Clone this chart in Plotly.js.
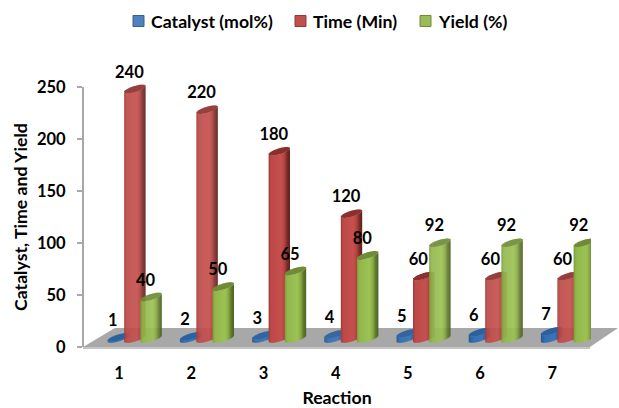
<!DOCTYPE html>
<html>
<head>
<meta charset="utf-8">
<script src="https://cdn.plot.ly/plotly-3.0.1.min.js"></script>
<style>html,body{margin:0;padding:0;background:#fff}#chart{width:619px;height:408px}</style>
</head>
<body>
<div id="chart"></div>
<script>
// Reaction conditions per run
const reactions = [1, 2, 3, 4, 5, 6, 7];
const catalyst = [1, 2, 3, 4, 5, 6, 7];
const time = [240, 220, 180, 120, 60, 60, 60];
const yieldPct = [40, 50, 65, 80, 92, 92, 92];

const W = 619, H = 408;
const plot = {l: 83, r: 591, t: 61, b: 347};
const yMax = 275;
const xMax = 7.536;
const pxPerX = (plot.r - plot.l) / (xMax - 0.5);
const pxPerY = (plot.b - plot.t) / yMax;

// Cylinder geometry, in pixels, converted to axis units when used
const radius = 10.5, tilt = 3, flat = 3, floorLift = 8.5;
const stripCount = 21;

const styles = [
  {name: 'Catalyst (mol%)', values: catalyst, shift: -0.7, cap: [42, 98, 162],
   stops: [[-1, [38, 88, 144]], [-0.6, [54, 112, 178]], [0.3, [58, 118, 186]], [0.7, [38, 90, 150]], [1, [28, 68, 116]]]},
  {name: 'Time (Min)', values: time, shift: 15.8, cap: [140, 48, 46],
   stops: [[-1, [160, 60, 58]], [-0.75, [188, 74, 72]], [0.2, [198, 80, 78]], [0.5, [178, 68, 66]], [0.75, [128, 46, 44]], [1, [92, 32, 30]]]},
  {name: 'Yield (%)', values: yieldPct, shift: 32, cap: [112, 140, 56],
   stops: [[-1, [124, 156, 58]], [-0.75, [146, 184, 76]], [0.2, [156, 194, 84]], [0.5, [138, 172, 70]], [0.75, [100, 126, 48]], [1, [76, 98, 36]]]}
];

function shade(stops, t) {
  for (let i = 1; i < stops.length; i++) {
    if (t <= stops[i][0]) {
      const f = (t - stops[i - 1][0]) / (stops[i][0] - stops[i - 1][0]);
      const c = stops[i - 1][1].map((v, k) => Math.round(v + (stops[i][1][k] - v) * f));
      return `rgb(${c.join(',')})`;
    }
  }
  return `rgb(${stops[stops.length - 1][1].join(',')})`;
}

// Each cylinder is a run of narrow bars: the body keeps the full value as its
// length, and the cap bars span the tilted ellipse above it.
function cylinderTrace(style) {
  const x = [], y = [], base = [], width = [], color = [];
  const lift = floorLift / pxPerY;
  const caps = {x: [], y: [], base: [], width: [], color: []};
  style.values.forEach((v, i) => {
    for (let s = 0; s < stripCount; s++) {
      const t = -1 + (2 * s + 1) / stripCount;
      const edge = Math.sqrt(1 - t * t) * flat / pxPerY;
      const slope = t * tilt / pxPerY;
      const cx = reactions[i] + style.shift / pxPerX + t * radius / pxPerX;
      const w = 1.4 * (2 * radius / stripCount) / pxPerX;
      x.push(cx); width.push(w); color.push(shade(style.stops, t));
      base.push(lift + slope - edge); y.push(v);
      caps.x.push(cx); caps.width.push(w); caps.color.push(`rgb(${style.cap.join(',')})`);
      caps.base.push(lift + v + slope - edge); caps.y.push(2 * edge);
    }
  });
  return {
    type: 'bar', name: style.name, orientation: 'v', cliponaxis: false, showlegend: false, hoverinfo: 'skip', opacity: 1,
    x: x.concat(caps.x), y: y.concat(caps.y), base: base.concat(caps.base), width: width.concat(caps.width),
    marker: {color: color.concat(caps.color), opacity: 1, line: {width: 0}}
  };
}

// Value labels sit above and slightly left of each cylinder top
function labelTrace(style) {
  return {
    type: 'scatter', mode: 'text', cliponaxis: false, showlegend: false, hoverinfo: 'skip',
    x: reactions.map(r => r + (style.shift - 5.5) / pxPerX),
    y: style.values.map(v => v + (floorLift + 15.5) / pxPerY),
    text: style.values.map(String), textposition: 'middle center',
    textfont: {family: 'Lato, sans-serif', size: 16.5, color: '#000', weight: 700}
  };
}

const px = v => (v - plot.l) / (plot.r - plot.l);
const py = v => (plot.b - v) / (plot.b - plot.t);
function polygon(points, fill) {
  const path = points.map((p, i) => `${i ? 'L' : 'M'}${px(p[0])},${py(p[1])}`).join(' ') + ' Z';
  return {type: 'path', xref: 'paper', yref: 'paper', path, fillcolor: fill, line: {width: 0}, layer: 'below'};
}

const legendItems = [
  {x: 133, textX: 149, fill: '#4f81bd', edge: '#38618f'},
  {x: 295, textX: 311, fill: '#c0504d', edge: '#8f3a38'},
  {x: 420, textX: 436, fill: '#9bbb59', edge: '#6f8a3c'}
];

const shapes = [
  polygon([[83, 349], [590, 349], [590, 347], [83, 347]], '#c4c4c4'),
  polygon([[83, 347], [115, 328], [618, 328], [590, 347]], '#a8a8a8'),
  {type: 'line', xref: 'paper', yref: 'y', x0: 0, x1: 0, y0: 0, y1: 250, line: {color: '#a8a8a8', width: 2}, layer: 'below'}
].concat(legendItems.map(it => ({
  type: 'rect', xref: 'paper', yref: 'paper', x0: px(it.x), x1: px(it.x + 11), y0: py(26.5), y1: py(15.5),
  fillcolor: it.fill, line: {color: it.edge, width: 1}
})));

const digitFont = {family: 'Lato, sans-serif', size: 16.5, color: '#000', weight: 700};
const wordFont = {family: 'Lato, sans-serif', size: 17.7, color: '#000', weight: 700};

const annotations = legendItems.map((it, i) => ({
  xref: 'paper', yref: 'paper', x: px(it.textX), y: py(21), xanchor: 'left', yanchor: 'middle',
  showarrow: false, text: styles[i].name, font: wordFont
})).concat([{
  xref: 'paper', yref: 'paper', x: px(20), y: py(217), xanchor: 'center', yanchor: 'middle',
  textangle: -90, showarrow: false, text: 'Catalyst, Time and Yield', font: wordFont
}]);

const layout = {
  width: W, height: H,
  margin: {l: plot.l, r: W - plot.r, t: plot.t, b: H - plot.b, pad: 0},
  paper_bgcolor: '#fff', plot_bgcolor: 'rgba(0,0,0,0)',
  barmode: 'overlay', showlegend: false, shapes, annotations,
  xaxis: {
    range: [0.5, xMax], tickmode: 'array', tickvals: reactions, ticktext: reactions.map(String),
    ticks: '', showgrid: false, showline: false, zeroline: false, ticklabelstandoff: 14,
    tickfont: digitFont, title: {text: 'Reaction', font: wordFont, standoff: 15}
  },
  yaxis: {
    range: [0, yMax], tickvals: [0, 50, 100, 150, 200, 250], ticks: 'outside', ticklen: 5, tickwidth: 2,
    tickcolor: '#a8a8a8', showline: false, showgrid: false, zeroline: false,
    ticklabelstandoff: 8, tickfont: digitFont
  }
};

const traces = styles.map(cylinderTrace).concat(styles.map(labelTrace));
Plotly.newPlot('chart', traces, layout, {displayModeBar: false, staticPlot: true});
</script>
</body>
</html>
